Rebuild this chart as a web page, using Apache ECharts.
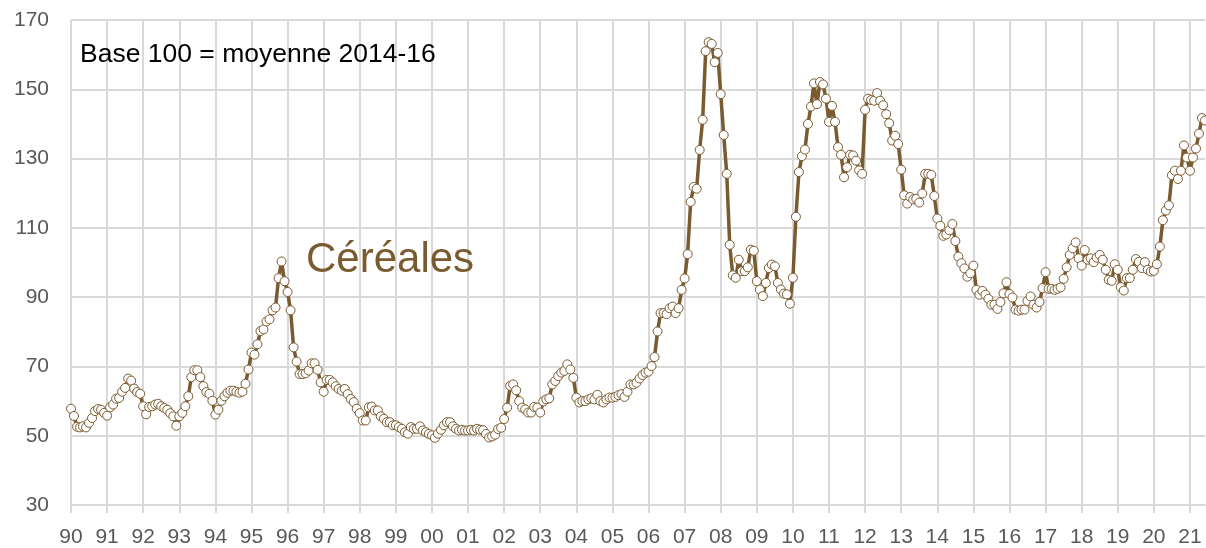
<!DOCTYPE html>
<html>
<head>
<meta charset="utf-8">
<script src="https://cdn.jsdelivr.net/npm/echarts@6/dist/echarts.min.js"></script>
<style>
  html, body { margin: 0; padding: 0; background: #fff; }
  #chart { width: 1206px; height: 548px; }
</style>
</head>
<body>
<div id="chart"></div>
<script>
// indice des prix des céréales, mensuel, base 100 = moyenne 2014-16
var firstYear = 1990;
var v1990 = [57.8, 55.7, 52.6, 52.4, 52.7, 52.4, 53.7, 55.1, 57.1, 57.7, 57.5, 56.6];
var v1991 = [55.8, 58.2, 59.0, 60.7, 60.9, 62.7, 63.8, 66.5, 65.9, 63.6, 62.6, 62.1];
var v1992 = [58.5, 56.2, 58.3, 58.5, 59.0, 59.2, 58.5, 58.0, 57.5, 56.5, 55.6, 52.9];
var v1993 = [55.6, 56.6, 58.5, 61.4, 66.9, 68.9, 68.9, 66.9, 64.3, 62.6, 62.1, 60.1];
var v1994 = [56.1, 57.5, 60.1, 61.4, 62.4, 63.0, 63.0, 62.7, 62.4, 62.7, 65.0, 69.1];
var v1995 = [74.0, 73.4, 76.4, 80.2, 80.7, 83.0, 83.6, 86.2, 87.0, 95.5, 100.3, 94.6];
var v1996 = [91.5, 86.2, 75.5, 71.4, 67.8, 67.8, 68.0, 68.8, 70.9, 70.9, 69.0, 65.4];
var v1997 = [62.7, 66.1, 66.1, 65.4, 64.3, 63.5, 63.0, 63.5, 62.0, 60.6, 59.7, 57.8];
var v1998 = [56.5, 54.4, 54.4, 58.2, 58.4, 57.3, 57.3, 55.6, 54.9, 53.9, 53.9, 53.0];
var v1999 = [53.0, 52.5, 52.0, 51.0, 50.6, 52.5, 52.0, 52.0, 52.7, 51.5, 51.0, 50.5];
var v2000 = [50.1, 49.4, 50.6, 51.7, 53.0, 53.9, 53.9, 52.7, 52.0, 51.5, 51.7, 51.5];
var v2001 = [51.5, 51.7, 51.5, 52.0, 51.7, 51.6, 50.5, 49.5, 49.8, 50.3, 51.9, 52.3];
var v2002 = [54.8, 58.1, 64.4, 64.8, 63.1, 60.0, 58.1, 57.6, 56.7, 56.7, 58.3, 58.1];
var v2003 = [56.7, 59.9, 60.5, 60.8, 64.8, 65.8, 67.2, 68.2, 68.7, 70.6, 69.1, 66.7];
var v2004 = [61.0, 59.6, 60.0, 60.0, 60.5, 60.8, 60.5, 61.8, 60.0, 59.6, 60.5, 61.0];
var v2005 = [61.0, 61.2, 61.7, 62.0, 61.2, 62.7, 64.8, 64.8, 65.3, 66.5, 67.5, 68.2];
var v2006 = [68.5, 70.1, 72.7, 80.1, 85.4, 85.4, 85.1, 86.8, 87.3, 85.4, 86.8, 92.1];
var v2007 = [95.4, 102.4, 117.5, 121.8, 121.3, 132.5, 141.2, 161.0, 163.6, 163.1, 157.8, 160.5];
var v2008 = [148.6, 136.8, 125.6, 105.1, 96.3, 95.6, 100.8, 97.5, 97.5, 98.6, 103.7, 103.4];
var v2009 = [94.6, 92.2, 90.3, 94.1, 98.4, 99.4, 98.9, 94.1, 92.2, 91.0, 90.8, 88.1];
var v2010 = [95.6, 113.2, 126.1, 130.7, 132.6, 140.0, 145.0, 151.7, 145.7, 152.1, 151.4, 147.3];
var v2011 = [140.6, 145.2, 140.6, 133.3, 131.1, 124.6, 127.5, 131.1, 130.9, 129.4, 126.6, 125.6];
var v2012 = [144.1, 147.3, 146.9, 146.7, 148.9, 146.7, 145.4, 142.8, 140.2, 135.2, 136.6, 134.2];
var v2013 = [126.8, 119.4, 117.0, 118.9, 118.2, 118.4, 117.3, 119.9, 125.6, 125.6, 125.3, 119.2];
var v2014 = [112.7, 110.6, 107.7, 108.1, 109.3, 111.1, 106.2, 101.7, 99.8, 98.3, 95.9, 96.9];
var v2015 = [99.1, 92.1, 90.7, 91.8, 90.7, 89.5, 87.8, 87.8, 86.6, 88.6, 91.1, 94.3];
var v2016 = [90.9, 89.9, 86.4, 86.1, 86.4, 86.4, 88.9, 90.2, 87.8, 87.0, 88.6, 92.6];
var v2017 = [97.2, 92.4, 92.4, 92.1, 92.4, 92.8, 95.3, 98.6, 102.2, 104.1, 105.8, 101.2];
var v2018 = [99.1, 103.6, 100.8, 101.2, 100.1, 101.4, 102.2, 100.8, 97.9, 95.0, 94.7, 99.5];
var v2019 = [97.9, 92.9, 91.9, 95.5, 95.5, 97.9, 101.0, 100.2, 98.4, 100.1, 97.9, 97.4];
var v2020 = [97.6, 99.5, 104.6, 112.2, 115.0, 116.5, 125.2, 126.5, 124.1, 126.5, 133.8, 130.3];
var v2021 = [126.5, 130.3, 132.9, 137.2, 141.7, 141.0];

var yTicks = { min: 30, max: 170, step: 20 };
var subtitle = 'Base 100 = moyenne 2014-16';
var seriesName = 'Céréales';

var years = [v1990, v1991, v1992, v1993, v1994, v1995, v1996, v1997, v1998, v1999,
  v2000, v2001, v2002, v2003, v2004, v2005, v2006, v2007, v2008, v2009,
  v2010, v2011, v2012, v2013, v2014, v2015, v2016, v2017, v2018, v2019,
  v2020, v2021];

var months = [];
var values = [];
years.forEach(function(arr, i) {
  arr.forEach(function(v, m) {
    months.push((firstYear + i) + '-' + (m + 1));
    values.push(v);
  });
});

var brown = '#7a5a2f';
var grey = '#d9d9d9';
var labelColor = '#595959';
var fontFam = '"Liberation Sans", Arial, sans-serif';

function janOnly(index) { return index % 12 === 0; }

var chart = echarts.init(document.getElementById('chart'), null, { renderer: 'canvas' });
chart.setOption({
  animation: false,
  grid: { left: 71, right: 1, top: 20, bottom: 41, containLabel: false },
  xAxis: {
    type: 'category',
    boundaryGap: false,
    data: months,
    axisLine: { show: true, lineStyle: { color: grey, width: 2 } },
    axisTick: { show: true, interval: janOnly, length: 8, lineStyle: { color: grey, width: 2 } },
    axisLabel: {
      interval: janOnly,
      margin: 22,
      color: labelColor,
      fontSize: 21,
      fontFamily: fontFam,
      formatter: function(val) {
        var y = parseInt(val, 10) % 100;
        return (y < 10 ? '0' : '') + y;
      }
    },
    splitLine: { show: true, interval: janOnly, lineStyle: { color: grey, width: 2 } }
  },
  yAxis: {
    type: 'value',
    min: yTicks.min,
    max: yTicks.max,
    interval: yTicks.step,
    axisLine: { show: false },
    axisTick: { show: false },
    axisLabel: { margin: 22, color: labelColor, fontSize: 21, fontFamily: fontFam },
    splitLine: { show: true, lineStyle: { color: grey, width: 2 } }
  },
  graphic: [
    {
      type: 'text', left: 80, top: 41, z: 10,
      style: { text: subtitle, fill: '#000', font: '26.5px ' + fontFam }
    },
    {
      type: 'text', left: 306, top: 239, z: 10,
      style: { text: seriesName, fill: brown, font: '42px ' + fontFam }
    }
  ],
  series: [{
    name: seriesName,
    type: 'line',
    data: values,
    showAllSymbol: true,
    symbol: 'circle',
    symbolSize: 9,
    lineStyle: { color: brown, width: 3.5 },
    itemStyle: { color: '#fff', borderColor: brown, borderWidth: 1 },
    emphasis: { disabled: true }
  }]
});
</script>
</body>
</html>
